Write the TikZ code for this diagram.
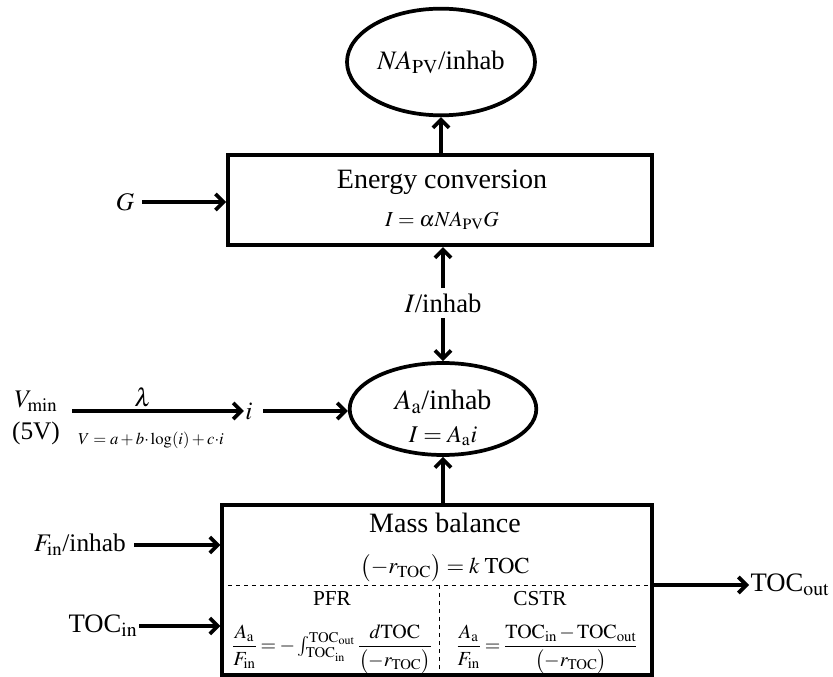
\documentclass[tikz,border=0pt]{standalone}
\usepackage{amsmath}
\usepackage{mathptmx}
\usepackage[no-math]{fontspec}
\setmainfont{Liberation Serif}
\usetikzlibrary{arrows.meta,shapes.geometric,positioning}

\newcommand{\tightmath}{\thickmuskip=3mu\relax\medmuskip=2mu\relax}

\begin{document}
\begin{tikzpicture}[x=0.75pt,y=-0.75pt,
    blk/.style={draw, line width=2.8pt, inner sep=0pt},
    oval/.style={draw, ellipse, line width=2.8pt, inner sep=0pt},
    flow/.style={-{Straight Barb[length=6pt,width=12pt]}, line width=2.8pt},
    divider/.style={dashed, line width=0.7pt},
    lbl/.style={font=\fontsize{19}{23}\selectfont, inner sep=1pt},
    big/.style={font=\fontsize{21}{25}\selectfont, inner sep=1pt},
    eq/.style={font=\fontsize{17}{20}\selectfont, inner sep=1pt},
    cell/.style={font=\fontsize{15}{18}\selectfont, inner sep=0pt},
    small/.style={font=\fontsize{12.5}{15}\selectfont, inner sep=1pt}]
    \useasboundingbox (0,0) rectangle (833,677);

    % Output per inhabitant
    \node[oval, minimum width=141pt, minimum height=80pt, font=\fontsize{20}{24}\selectfont] (napv) at (441,62) {$NA_{\mathrm{PV}}$/inhab};

    % Energy conversion block
    \node[blk, minimum width=318pt, minimum height=68pt] (conv) at (440,200) {};
    \node[big] (convtitle) at (442,182) {Energy conversion};
    \node[eq, font=\fontsize{16}{19}\selectfont] (conveq) at (442,221) {$I=\alpha NA_{\mathrm{PV}}G$};
    \node[lbl] (G) at (125,202) {$G$};
    \draw[flow, shorten <=5pt] (G.east) -- (G.east -| conv.west);
    \draw[flow] (napv.south |- conv.north) -- (napv.south);

    % Current per inhabitant
    \node[lbl, font=\fontsize{20}{24}\selectfont] (iinhab) at (443,303) {$I$/inhab};
    \draw[flow, shorten <=3pt] (iinhab.north) -- (iinhab.north |- conv.south);

    % Electrode area
    \node[oval, minimum width=140pt, minimum height=69pt] (aa) at (443,409) {};
    \node[big] (aatitle) at (443,402) {$A_{\mathrm{a}}$/inhab};
    \node[font=\fontsize{18}{21}\selectfont, inner sep=1pt] (aaeq) at (443,436) {$I=A_{\mathrm{a}}i$};
    \draw[flow, shorten <=3pt] (iinhab.south) -- (aa.north);

    % Polarisation curve
    \node[font=\fontsize{19}{22}\selectfont, inner sep=1pt] (vmin) at (36,401) {$V_{\min}$};
    \node[font=\fontsize{19}{22}\selectfont, inner sep=1pt] (fivev) at (36,433) {(5V)};
    \node[lbl] (i) at (249,411) {$i$};
    \node[lbl] (lambda) at (143,397) {$\lambda$};
    \node[small] (veq) at (151,440) {$V=a+b{\cdot}\log(i)+c{\cdot}i$};
    \draw[flow, shorten <=10pt] (vmin.east |- i) -- (i.west);
    \draw[flow, shorten <=7pt] (i.east) -- (i.east -| aa.west);

    % Mass balance block
    \node[blk, minimum width=322pt, minimum height=127pt] (mass) at (437,590) {};
    \coordinate (split) at (439,585);
    \draw[divider] (split -| mass.west) -- (split -| mass.east);
    \draw[divider] (split) -- (split |- mass.south);
    \node[big] (masstitle) at (445,523) {Mass balance};
    \node[eq] (rate) at (445,568) {$\bigl(-r_{\mathrm{TOC}}\bigr)=k\;\mathrm{TOC}$};
    \node[eq, font=\fontsize{16}{19}\selectfont] (pfr) at (332,599) {PFR};
    \node[eq, font=\fontsize{16}{19}\selectfont] (cstr) at (540,599) {CSTR};
    \node[cell] (pfreq) at (332,649) {$\tightmath\dfrac{A_{\mathrm{a}}}{F_{\mathrm{in}}}=-\int_{\mathrm{TOC_{in}}}^{\mathrm{TOC_{out}}}\dfrac{d\mathrm{TOC}}{\bigl(-r_{\mathrm{TOC}}\bigr)}$};
    \node[cell] (cstreq) at (547,649) {$\tightmath\dfrac{A_{\mathrm{a}}}{F_{\mathrm{in}}}=\dfrac{\mathrm{TOC_{in}}-\mathrm{TOC_{out}}}{\bigl(-r_{\mathrm{TOC}}\bigr)}$};
    \draw[flow] (aa.south |- mass.north) -- (aa.south);

    % Inputs and output of the reactor
    \node[lbl] (fin) at (80,545) {$F_{\mathrm{in}}$/inhab};
    \node[font=\fontsize{20}{24}\selectfont, inner sep=1pt] (tocin) at (103,626) {TOC$_{\mathrm{in}}$};
    \node[font=\fontsize{20}{24}\selectfont, inner sep=1pt, anchor=west] (tocout) at (749,585) {TOC$_{\mathrm{out}}$};
    \draw[flow, shorten <=5pt] (fin.east) -- (fin.east -| mass.west);
    \draw[flow] (tocin.east) -- (tocin.east -| mass.west);
    \draw[flow] (tocout.west -| mass.east) -- (tocout.west);
\end{tikzpicture}
\end{document}
